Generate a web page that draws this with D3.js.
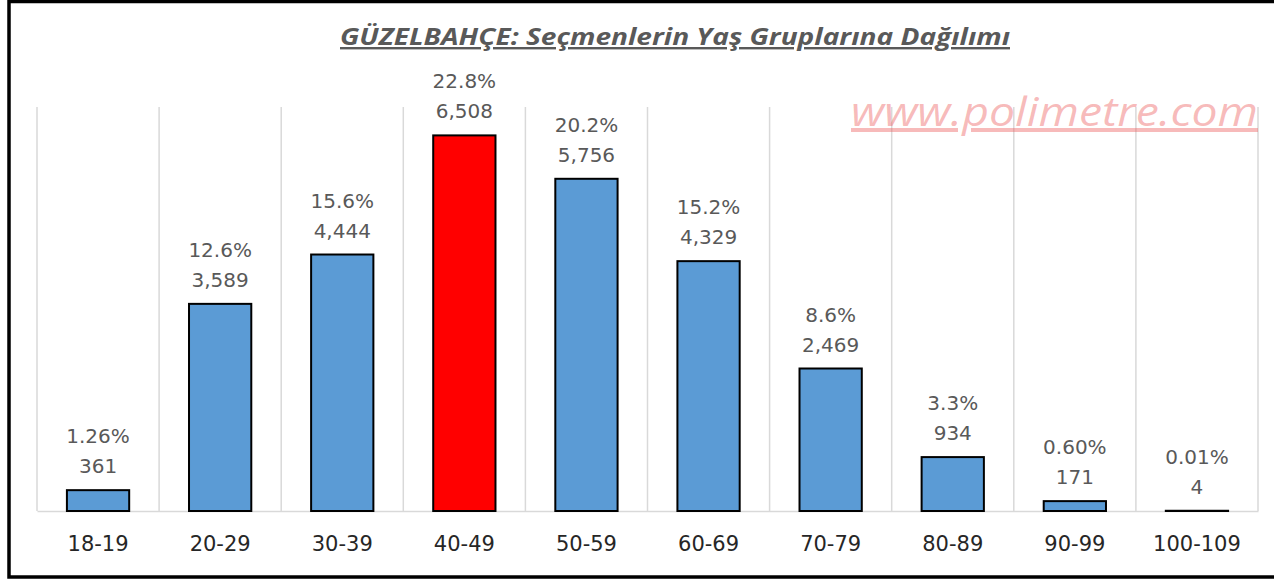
<!DOCTYPE html>
<html>
<head>
<meta charset="utf-8">
<script src="https://cdn.jsdelivr.net/npm/d3@7"></script>
<style>
  body { margin: 0; background: #fff; }
  svg { display: block; }
</style>
</head>
<body>
<svg id="chart"></svg>
<script>
const categories = ['18-19', '20-29', '30-39', '40-49', '50-59', '60-69', '70-79', '80-89', '90-99', '100-109'];
const voters = [361, 3589, 4444, 6508, 5756, 4329, 2469, 934, 171, 4];
const pctLabels = ['1.26%', '12.6%', '15.6%', '22.8%', '20.2%', '15.2%', '8.6%', '3.3%', '0.60%', '0.01%'];
const highlight = '40-49';
const title = 'GÜZELBAHÇE: Seçmenlerin Yaş Gruplarına Dağılımı';
const watermark = 'www.polimetre.com';

const W = 1274, H = 579;
const margin = { top: 107, right: 16, bottom: 68, left: 37 };
const width = W - margin.left - margin.right;
const height = H - margin.top - margin.bottom;

const root = d3.select('#chart').attr('width', W).attr('height', H);

// frame
root.append('rect')
    .attr('x', 9).attr('y', 1.5)
    .attr('width', 1300).attr('height', 575.5)
    .attr('fill', '#fff')
    .attr('stroke', '#000')
    .attr('stroke-width', 3.5);

root.append('text')
    .attr('x', 675).attr('y', 45)
    .attr('text-anchor', 'middle')
    .attr('fill', '#595959')
    .attr('textLength', 670)
    .attr('lengthAdjust', 'spacingAndGlyphs')
    .style('font-family', '"Open Sans", sans-serif')
    .style('font-weight', 'bold')
    .style('font-style', 'italic')
    .style('font-size', '24px')
    .style('text-decoration', 'underline')
    .text(title);

const svg = root.append('g')
    .attr('transform', `translate(${margin.left},${margin.top})`);

const x = d3.scaleBand().domain(categories).range([0, width]).padding(0);
const y = d3.scaleLinear().domain([0, 7000]).range([height, 0]);

// vertical gridlines at category boundaries
const bounds = categories.map(c => x(c)).concat([x.range()[1]]);
svg.append('g')
    .selectAll('line')
    .data(bounds)
    .join('line')
    .attr('x1', d => d).attr('x2', d => d)
    .attr('y1', y(7000)).attr('y2', y(0))
    .attr('stroke', '#d9d9d9')
    .attr('stroke-width', 1.5);

// watermark
svg.append('text')
    .attr('x', width).attr('y', 19)
    .attr('text-anchor', 'end')
    .attr('fill', 'rgba(236, 90, 90, 0.42)')
    .attr('textLength', 407)
    .attr('lengthAdjust', 'spacingAndGlyphs')
    .style('font-family', '"Open Sans", sans-serif')
    .style('font-style', 'italic')
    .style('font-size', '40px')
    .style('text-decoration', 'underline')
    .text(watermark);

const xAxis = d3.axisBottom(x).tickSize(0).tickPadding(25);
const gx = svg.append('g')
    .attr('transform', `translate(0,${height})`)
    .call(xAxis);
gx.select('.domain').attr('stroke', '#d9d9d9').attr('stroke-width', 1.5);
gx.selectAll('text')
    .attr('fill', '#262626')
    .style('font-family', '"DejaVu Sans", sans-serif')
    .style('font-size', '21px');

const barW = x.bandwidth() * 0.51;
const data = categories.map((c, i) => ({ cat: c, v: voters[i], pct: pctLabels[i] }));

svg.append('g')
    .selectAll('rect')
    .data(data)
    .join('rect')
    .attr('x', d => x(d.cat) + (x.bandwidth() - barW) / 2)
    .attr('y', d => y(d.v))
    .attr('width', barW)
    .attr('height', d => y(0) - y(d.v))
    .attr('fill', d => d.cat === highlight ? '#ff0000' : '#5b9bd5')
    .attr('stroke', '#000')
    .attr('stroke-width', 2);

const labels = svg.append('g')
    .selectAll('g')
    .data(data)
    .join('g')
    .attr('transform', d => `translate(${x(d.cat) + x.bandwidth() / 2},${y(d.v)})`)
    .style('font-family', '"DejaVu Sans", sans-serif')
    .style('font-size', '20px')
    .attr('fill', '#595959')
    .attr('text-anchor', 'middle');

labels.append('text').attr('y', -47).text(d => d.pct);
labels.append('text').attr('y', -17).text(d => d3.format(',')(d.v));
</script>
</body>
</html>
